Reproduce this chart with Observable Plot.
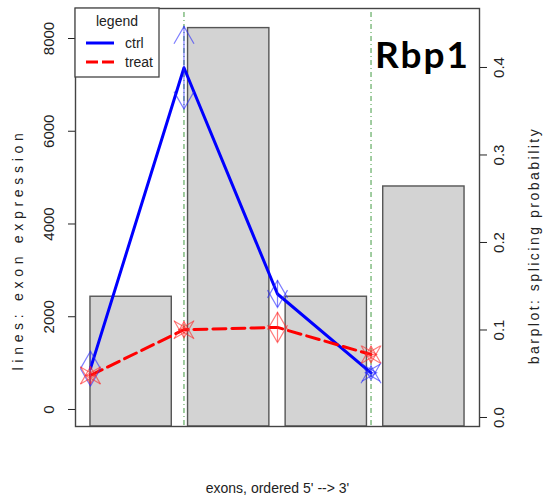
<!DOCTYPE html>
<html><head><meta charset="utf-8">
<script src="https://cdn.jsdelivr.net/npm/d3@7"></script>
<script src="https://cdn.jsdelivr.net/npm/@observablehq/plot@0.6"></script>
<style>
body{margin:0;background:#fff;}
#wrap{position:relative;width:544px;height:496px;}
#overlay{position:absolute;left:0;top:0;pointer-events:none;}
</style></head><body><div id="wrap"></div>
<script>
// ---- data ----
const exons = [1, 2, 3, 4];
const ctrlMean = [880, 7370, 2490, 790];
const ctrlSdY = [375, 890, 290, 150];
const ctrlSdX = [0, 0, 0, 0.06];
const treatMean = [735, 1720, 1770, 1185];
const treatSdY = [185, 175, 325, 180];
const treatSdX = [0.05, 0.055, 0, 0.06];
const splicingProb = [0.138, 0.445, 0.138, 0.264];
const exprTicks = [0, 2000, 4000, 6000, 8000];
const probTicks = [0, 0.1, 0.2, 0.3, 0.4];
const markerExons = [2, 4];
const seriesNames = ["ctrl", "treat"];
const geneName = "Rbp1";

// ---- coordinate systems (line plot xlim 1..5, barplot xlim 0.2..4.8, both padded 4%) ----
const xDom = [0.84, 5.16];
const barXDom = [0.016, 4.984];
const yDom = [-367, 8647];
const probDom = [-0.0103, 0.4674];
const barToX = b => xDom[0] + (b - barXDom[0]) / (barXDom[1] - barXDom[0]) * (xDom[1] - xDom[0]);
const toExpr = p => yDom[0] + (p - probDom[0]) / (probDom[1] - probDom[0]) * (yDom[1] - yDom[0]);
const fromExpr = e => probDom[0] + (e - yDom[0]) / (yDom[1] - yDom[0]) * (probDom[1] - probDom[0]);

const bars = splicingProb.map((p, i) => ({x1: barToX(0.2 + 1.2 * i), x2: barToX(1.2 + 1.2 * i), p}));
const ctrl = exons.map((e, i) => ({exon: e, mean: ctrlMean[i], sdY: ctrlSdY[i], sdX: ctrlSdX[i], series: "ctrl"}));
const treat = exons.map((e, i) => ({exon: e, mean: treatMean[i], sdY: treatSdY[i], sdX: treatSdX[i], series: "treat"}));

const colors = {ctrl: "#0000ff", treat: "#ff0000"};
const errColors = {ctrl: "rgba(40,40,255,0.6)", treat: "rgba(255,40,40,0.6)"};

// arrowhead wings (R arrows, angle 30)
function head(ux, uy, L) {
  const a = Math.PI / 6;
  return {draw(ctx) {
    const w1x = L * (ux * Math.cos(a) - uy * Math.sin(a)), w1y = L * (ux * Math.sin(a) + uy * Math.cos(a));
    const w2x = L * (ux * Math.cos(-a) - uy * Math.sin(-a)), w2y = L * (ux * Math.sin(-a) + uy * Math.cos(-a));
    ctx.moveTo(w1x, w1y); ctx.lineTo(0, 0); ctx.lineTo(w2x, w2y);
  }};
}
const headUp = head(0, 1, 20), headDown = head(0, -1, 20), headLeft = head(1, 0, 17), headRight = head(-1, 0, 17);

function errMarks(data) {
  const c = errColors[data[0].series];
  const o = {stroke: c, strokeWidth: 1.2, fill: "none", r: 3};
  const hz = data.filter(d => d.sdX > 0);
  return [
    Plot.ruleX(data, {x: "exon", y1: d => d.mean - d.sdY, y2: d => d.mean + d.sdY, stroke: c, strokeWidth: 1.2}),
    Plot.dot(data, {x: "exon", y: d => d.mean + d.sdY, symbol: headUp, ...o}),
    Plot.dot(data, {x: "exon", y: d => d.mean - d.sdY, symbol: headDown, ...o}),
    Plot.ruleY(hz, {y: "mean", x1: d => d.exon - d.sdX, x2: d => d.exon + d.sdX, stroke: c, strokeWidth: 1.2}),
    Plot.dot(hz, {x: d => d.exon - d.sdX, y: "mean", symbol: headLeft, ...o}),
    Plot.dot(hz, {x: d => d.exon + d.sdX, y: "mean", symbol: headRight, ...o})
  ];
}

const font = "'Liberation Sans', Arial, Helvetica, sans-serif";
const chart = Plot.plot({
  width: 544, height: 496,
  marginLeft: 75, marginRight: 65, marginTop: 8, marginBottom: 70,
  style: {fontFamily: font, fontSize: "15px", color: "#222", background: "white"},
  x: {domain: xDom, axis: null},
  y: {domain: yDom, axis: null},
  marks: [
    Plot.rect(bars, {x1: "x1", x2: "x2", y1: yDom[0], y2: d => toExpr(d.p), fill: "#d3d3d3", stroke: "#555", strokeWidth: 1.4}),
    Plot.ruleX(markerExons, {x: d => d, stroke: "#2f8f2f", strokeWidth: 1, strokeDasharray: "1,3,5,3", strokeOpacity: 0.9}),
    Plot.line(ctrl, {x: "exon", y: "mean", stroke: colors.ctrl, strokeWidth: 3}),
    Plot.line(treat, {x: "exon", y: "mean", stroke: colors.treat, strokeWidth: 3, strokeDasharray: "13,6"}),
    ...errMarks(ctrl),
    ...errMarks(treat),
    Plot.frame({stroke: "#444", strokeWidth: 1.4}),
    Plot.axisY(exprTicks, {anchor: "left", tickSize: 7, tickRotate: -90, tickPadding: 15, label: null, tickFormat: d => String(d)}),
    Plot.axisY(probTicks.map(toExpr), {anchor: "right", tickSize: 7, tickRotate: -90, tickPadding: 17, label: null, tickFormat: d => d3.format(".1f")(fromExpr(d))}),
    Plot.text(["lines: exon expression"], {text: d => d, frameAnchor: "left", textAnchor: "middle", lineAnchor: "middle", rotate: -90, dx: -57, dy: 32, fontSize: 14}),
    Plot.text(["barplot: splicing probability"], {text: d => d, frameAnchor: "right", textAnchor: "middle", lineAnchor: "middle", rotate: -90, dx: 55, dy: 28, fontSize: 14}),
    Plot.text(["exons, ordered 5' --> 3'"], {text: d => d, frameAnchor: "bottom", textAnchor: "middle", lineAnchor: "middle", dy: 62, fontSize: 14})
  ]
});
d3.select(chart).selectAll("text").filter(function() { return this.textContent === "lines: exon expression"; }).attr("letter-spacing", 4.7);
d3.select(chart).selectAll("text").filter(function() { return this.textContent === "barplot: splicing probability"; }).attr("letter-spacing", 2.5);
document.getElementById("wrap").appendChild(chart);

// ---- legend and gene label overlay ----
const ov = d3.select("#wrap").append("svg").attr("id", "overlay").attr("width", 544).attr("height", 496)
  .style("font-family", font).style("fill", "#222");
ov.append("rect").attr("x", 75).attr("y", 8).attr("width", 84).attr("height", 69).attr("fill", "white").attr("stroke", "#444").attr("stroke-width", 1.3);
ov.append("text").attr("x", 117).attr("y", 26).attr("text-anchor", "middle").attr("font-size", 14).text("legend");
seriesNames.forEach((s, i) => {
  const y = 43 + i * 19;
  ov.append("line").attr("x1", 86).attr("x2", 114).attr("y1", y).attr("y2", y)
    .attr("stroke", colors[s]).attr("stroke-width", 3).attr("stroke-dasharray", s === "treat" ? "12,4" : null);
  ov.append("text").attr("x", 125).attr("y", y + 5).attr("font-size", 14).text(s);
});
ov.append("text").attr("x", 375).attr("y", 68).attr("font-size", 37).attr("font-weight", "bold").attr("letter-spacing", 2)
  .style("font-family", "Lato, 'Liberation Sans', sans-serif").style("fill", "#000").text(geneName);
</script></body></html>
